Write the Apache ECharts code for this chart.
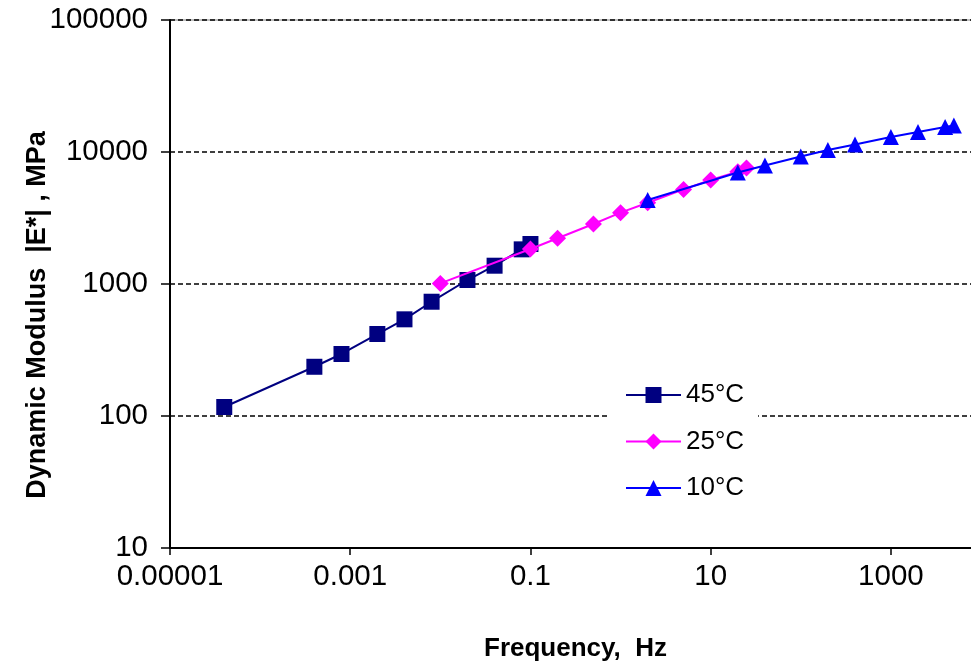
<!DOCTYPE html>
<html><head><meta charset="utf-8">
<script src="https://cdn.jsdelivr.net/npm/echarts@6/dist/echarts.min.js"></script>
<style>html,body{margin:0;padding:0;background:#fff}#c{width:971px;height:666px}</style>
</head><body><div id="c"></div>
<script>
const seriesNames = ['45°C', '25°C', '10°C'];
const freq45 = [0.00004, 0.0004, 0.0008, 0.002, 0.004, 0.008, 0.02, 0.04, 0.08, 0.1];
const mod45 = [117, 236, 295, 418, 540, 734, 1072, 1376, 1830, 2010];
const freq25 = [0.01, 0.1, 0.2, 0.5, 1, 2, 5, 10, 20, 25];
const mod25 = [1010, 1840, 2220, 2850, 3470, 4130, 5210, 6130, 7100, 7570];
const freq10 = [2, 20, 40, 100, 200, 400, 1000, 2000, 4000, 5000];
const mod10 = [4330, 7000, 7900, 9250, 10350, 11400, 13000, 14150, 15450, 15850];
const xTickValues = [0.00001, 0.001, 0.1, 10, 1000];
const xTickLabels = ['0.00001', '0.001', '0.1', '10', '1000'];
const yTickValues = [10, 100, 1000, 10000, 100000];
const yTickLabels = ['10', '100', '1000', '10000', '100000'];

function pairs(xs, ys) { return xs.map((x, i) => [x, ys[i]]); }
function labelFor(vals, labels) {
  return function (v) {
    const e = Math.round(Math.log10(v));
    const i = vals.findIndex(t => Math.round(Math.log10(t)) === e);
    return i >= 0 ? labels[i] : '';
  };
}
const font = "'Liberation Sans', Arial, sans-serif";
const chart = echarts.init(document.getElementById('c'), null, { renderer: 'canvas' });
chart.setOption({
  animation: false,
  backgroundColor: '#ffffff',
  grid: { left: 170, right: -10, top: 20, bottom: 118, outerBoundsMode: 'none', containLabel: false,
    show: true, borderColor: '#808080', borderWidth: 1, backgroundColor: 'transparent' },
  xAxis: {
    type: 'log', min: 0.00001, max: 10000, interval: 2,
    name: 'Frequency,  Hz', nameLocation: 'middle', nameGap: 88, nameMoveOverlap: false,
    nameTextStyle: { fontFamily: font, fontSize: 26, fontWeight: 'bold', color: '#000' },
    axisLine: { show: true, lineStyle: { color: '#000', width: 2 } },
    axisTick: { show: true, inside: false, length: 7, lineStyle: { color: '#000', width: 1.5 } },
    axisLabel: { show: true, margin: 14, fontFamily: font, fontSize: 29.5, color: '#000', formatter: labelFor(xTickValues, xTickLabels) },
    splitLine: { show: false },
    minorTick: { show: false }
  },
  yAxis: {
    type: 'log', min: 10, max: 100000,
    name: 'Dynamic Modulus  |E*| , MPa', nameLocation: 'middle', nameGap: 119, nameRotate: 90, nameMoveOverlap: false,
    nameTextStyle: { fontFamily: font, fontSize: 27, fontWeight: 'bold', color: '#000', padding: [0, 62, 0, 0] },
    axisLine: { show: true, lineStyle: { color: '#000', width: 2 } },
    axisTick: { show: true, inside: false, length: 9, lineStyle: { color: '#000', width: 1.5 } },
    axisLabel: { show: true, margin: 22, fontFamily: font, fontSize: 29.5, color: '#000', formatter: labelFor(yTickValues, yTickLabels) },
    splitLine: { show: true, lineStyle: { color: '#000', width: 1.5, type: [5, 3] } }
  },
  legend: {
    show: true, orient: 'vertical', left: 610, top: 372,
    padding: [10, 14, 10, 15], itemGap: 20.5, itemWidth: 55, itemHeight: 20,
    backgroundColor: '#ffffff',
    textStyle: { fontFamily: font, fontSize: 26, color: '#000' },
    data: seriesNames
  },
  series: [
    { name: seriesNames[0], type: 'line', data: pairs(freq45, mod45), symbol: 'rect', symbolSize: 16,
      lineStyle: { color: '#000080', width: 2 }, itemStyle: { color: '#000080' }, z: 2 },
    { name: seriesNames[1], type: 'line', data: pairs(freq25, mod25), symbol: 'diamond', symbolSize: 17,
      lineStyle: { color: '#ff00ff', width: 2 }, itemStyle: { color: '#ff00ff' }, z: 3 },
    { name: seriesNames[2], type: 'line', data: pairs(freq10, mod10), symbol: 'triangle', symbolSize: 16,
      lineStyle: { color: '#0000ff', width: 2 }, itemStyle: { color: '#0000ff' }, z: 4 }
  ]
});
</script>
</body></html>
